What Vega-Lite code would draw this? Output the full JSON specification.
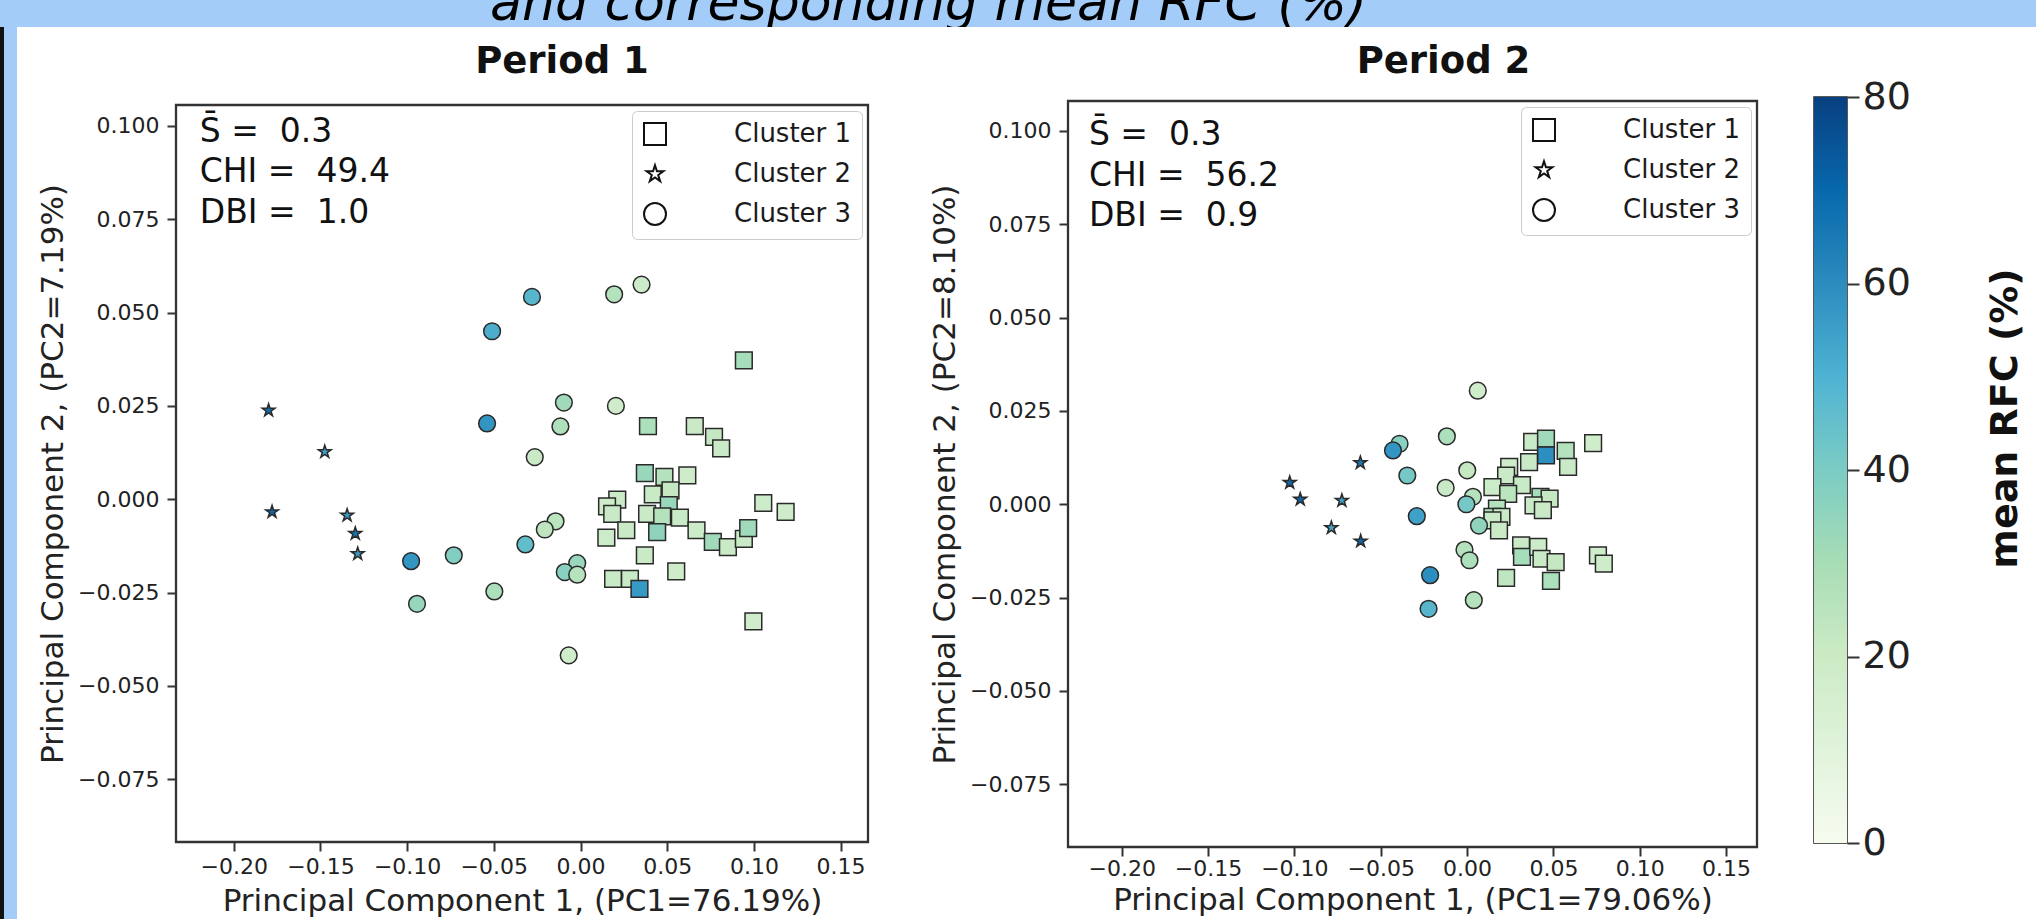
{
  "$schema": "https://vega.github.io/schema/vega-lite/v6.json",
  "background": "white",
  "padding": 0,
  "spacing": 0,
  "config": {
    "font": "DejaVu Sans",
    "view": {"stroke": null},
    "concat": {"spacing": 0},
    "axis": {"domain": false, "grid": false, "tickColor": "#333333", "tickWidth": 2, "tickSize": 9, "labelFont": "DejaVu Sans", "labelFontSize": 22, "labelColor": "#222222", "titleFont": "DejaVu Sans", "titleFontSize": 31, "titleFontWeight": "normal", "titleColor": "#222222"}
  },
  "datasets": {
    "pts": [
      {"period": 1, "cluster": "Cluster 1", "pc1": 0.0942, "pc2": 0.0372, "rfc": 20},
      {"period": 1, "cluster": "Cluster 1", "pc1": 0.0389, "pc2": 0.0196, "rfc": 18},
      {"period": 1, "cluster": "Cluster 1", "pc1": 0.0659, "pc2": 0.0196, "rfc": 5},
      {"period": 1, "cluster": "Cluster 1", "pc1": 0.0770, "pc2": 0.0167, "rfc": 8},
      {"period": 1, "cluster": "Cluster 1", "pc1": 0.0811, "pc2": 0.0136, "rfc": 5},
      {"period": 1, "cluster": "Cluster 1", "pc1": 0.0371, "pc2": 0.0070, "rfc": 25},
      {"period": 1, "cluster": "Cluster 1", "pc1": 0.0484, "pc2": 0.0060, "rfc": 15},
      {"period": 1, "cluster": "Cluster 1", "pc1": 0.0616, "pc2": 0.0064, "rfc": 3},
      {"period": 1, "cluster": "Cluster 1", "pc1": 0.0519, "pc2": 0.0024, "rfc": 8},
      {"period": 1, "cluster": "Cluster 1", "pc1": 0.0417, "pc2": 0.0013, "rfc": 6},
      {"period": 1, "cluster": "Cluster 1", "pc1": 0.0212, "pc2": -0.0001, "rfc": 5},
      {"period": 1, "cluster": "Cluster 1", "pc1": 0.0153, "pc2": -0.0019, "rfc": 3},
      {"period": 1, "cluster": "Cluster 1", "pc1": 0.0183, "pc2": -0.0039, "rfc": 5},
      {"period": 1, "cluster": "Cluster 1", "pc1": 0.0509, "pc2": -0.0016, "rfc": 25},
      {"period": 1, "cluster": "Cluster 1", "pc1": 0.0384, "pc2": -0.0039, "rfc": 5},
      {"period": 1, "cluster": "Cluster 1", "pc1": 0.0471, "pc2": -0.0046, "rfc": 15},
      {"period": 1, "cluster": "Cluster 1", "pc1": 0.0573, "pc2": -0.0049, "rfc": 6},
      {"period": 1, "cluster": "Cluster 1", "pc1": 0.1054, "pc2": -0.0010, "rfc": 4},
      {"period": 1, "cluster": "Cluster 1", "pc1": 0.1183, "pc2": -0.0034, "rfc": 3},
      {"period": 1, "cluster": "Cluster 1", "pc1": 0.0264, "pc2": -0.0083, "rfc": 5},
      {"period": 1, "cluster": "Cluster 1", "pc1": 0.0149, "pc2": -0.0103, "rfc": 4},
      {"period": 1, "cluster": "Cluster 1", "pc1": 0.0442, "pc2": -0.0088, "rfc": 28},
      {"period": 1, "cluster": "Cluster 1", "pc1": 0.0669, "pc2": -0.0083, "rfc": 4},
      {"period": 1, "cluster": "Cluster 1", "pc1": 0.0763, "pc2": -0.0114, "rfc": 22},
      {"period": 1, "cluster": "Cluster 1", "pc1": 0.0850, "pc2": -0.0128, "rfc": 5},
      {"period": 1, "cluster": "Cluster 1", "pc1": 0.0942, "pc2": -0.0106, "rfc": 5},
      {"period": 1, "cluster": "Cluster 1", "pc1": 0.0967, "pc2": -0.0077, "rfc": 22},
      {"period": 1, "cluster": "Cluster 1", "pc1": 0.0371, "pc2": -0.0150, "rfc": 5},
      {"period": 1, "cluster": "Cluster 1", "pc1": 0.0552, "pc2": -0.0193, "rfc": 3},
      {"period": 1, "cluster": "Cluster 1", "pc1": 0.0188, "pc2": -0.0213, "rfc": 6},
      {"period": 1, "cluster": "Cluster 1", "pc1": 0.0285, "pc2": -0.0213, "rfc": 6},
      {"period": 1, "cluster": "Cluster 1", "pc1": 0.0340, "pc2": -0.0240, "rfc": 58},
      {"period": 1, "cluster": "Cluster 1", "pc1": 0.0997, "pc2": -0.0327, "rfc": 2},
      {"period": 1, "cluster": "Cluster 2", "pc1": -0.1799, "pc2": 0.0238, "rfc": 76},
      {"period": 1, "cluster": "Cluster 2", "pc1": -0.1475, "pc2": 0.0127, "rfc": 55},
      {"period": 1, "cluster": "Cluster 2", "pc1": -0.1779, "pc2": -0.0034, "rfc": 78},
      {"period": 1, "cluster": "Cluster 2", "pc1": -0.1346, "pc2": -0.0043, "rfc": 58},
      {"period": 1, "cluster": "Cluster 2", "pc1": -0.1299, "pc2": -0.0092, "rfc": 72},
      {"period": 1, "cluster": "Cluster 2", "pc1": -0.1285, "pc2": -0.0146, "rfc": 56},
      {"period": 1, "cluster": "Cluster 3", "pc1": -0.0280, "pc2": 0.0542, "rfc": 46},
      {"period": 1, "cluster": "Cluster 3", "pc1": -0.0510, "pc2": 0.0450, "rfc": 50},
      {"period": 1, "cluster": "Cluster 3", "pc1": -0.0539, "pc2": 0.0203, "rfc": 60},
      {"period": 1, "cluster": "Cluster 3", "pc1": 0.0194, "pc2": 0.0549, "rfc": 15},
      {"period": 1, "cluster": "Cluster 3", "pc1": 0.0352, "pc2": 0.0575, "rfc": 4},
      {"period": 1, "cluster": "Cluster 3", "pc1": -0.0096, "pc2": 0.0259, "rfc": 22},
      {"period": 1, "cluster": "Cluster 3", "pc1": -0.0116, "pc2": 0.0195, "rfc": 17},
      {"period": 1, "cluster": "Cluster 3", "pc1": 0.0204, "pc2": 0.0250, "rfc": 3},
      {"period": 1, "cluster": "Cluster 3", "pc1": -0.0264, "pc2": 0.0113, "rfc": 5},
      {"period": 1, "cluster": "Cluster 3", "pc1": -0.0144, "pc2": -0.0059, "rfc": 12},
      {"period": 1, "cluster": "Cluster 3", "pc1": -0.0206, "pc2": -0.0081, "rfc": 11},
      {"period": 1, "cluster": "Cluster 3", "pc1": -0.0318, "pc2": -0.0121, "rfc": 42},
      {"period": 1, "cluster": "Cluster 3", "pc1": -0.0731, "pc2": -0.0150, "rfc": 32},
      {"period": 1, "cluster": "Cluster 3", "pc1": -0.0977, "pc2": -0.0166, "rfc": 60},
      {"period": 1, "cluster": "Cluster 3", "pc1": -0.0943, "pc2": -0.0280, "rfc": 26},
      {"period": 1, "cluster": "Cluster 3", "pc1": -0.0497, "pc2": -0.0247, "rfc": 18},
      {"period": 1, "cluster": "Cluster 3", "pc1": -0.0019, "pc2": -0.0171, "rfc": 25},
      {"period": 1, "cluster": "Cluster 3", "pc1": -0.0091, "pc2": -0.0195, "rfc": 30},
      {"period": 1, "cluster": "Cluster 3", "pc1": -0.0019, "pc2": -0.0202, "rfc": 14},
      {"period": 1, "cluster": "Cluster 3", "pc1": -0.0068, "pc2": -0.0418, "rfc": 2},
      {"period": 2, "cluster": "Cluster 1", "pc1": 0.0730, "pc2": 0.0164, "rfc": 2},
      {"period": 2, "cluster": "Cluster 1", "pc1": 0.0377, "pc2": 0.0167, "rfc": 5},
      {"period": 2, "cluster": "Cluster 1", "pc1": 0.0457, "pc2": 0.0176, "rfc": 22},
      {"period": 2, "cluster": "Cluster 1", "pc1": 0.0457, "pc2": 0.0131, "rfc": 62},
      {"period": 2, "cluster": "Cluster 1", "pc1": 0.0571, "pc2": 0.0143, "rfc": 15},
      {"period": 2, "cluster": "Cluster 1", "pc1": 0.0585, "pc2": 0.0100, "rfc": 5},
      {"period": 2, "cluster": "Cluster 1", "pc1": 0.0359, "pc2": 0.0113, "rfc": 5},
      {"period": 2, "cluster": "Cluster 1", "pc1": 0.0244, "pc2": 0.0100, "rfc": 3},
      {"period": 2, "cluster": "Cluster 1", "pc1": 0.0226, "pc2": 0.0077, "rfc": 5},
      {"period": 2, "cluster": "Cluster 1", "pc1": 0.0147, "pc2": 0.0046, "rfc": 4},
      {"period": 2, "cluster": "Cluster 1", "pc1": 0.0318, "pc2": 0.0051, "rfc": 6},
      {"period": 2, "cluster": "Cluster 1", "pc1": 0.0238, "pc2": 0.0028, "rfc": 12},
      {"period": 2, "cluster": "Cluster 1", "pc1": 0.0425, "pc2": 0.0020, "rfc": 20},
      {"period": 2, "cluster": "Cluster 1", "pc1": 0.0478, "pc2": 0.0015, "rfc": 8},
      {"period": 2, "cluster": "Cluster 1", "pc1": 0.0385, "pc2": -0.0003, "rfc": 5},
      {"period": 2, "cluster": "Cluster 1", "pc1": 0.0173, "pc2": -0.0012, "rfc": 15},
      {"period": 2, "cluster": "Cluster 1", "pc1": 0.0439, "pc2": -0.0016, "rfc": 5},
      {"period": 2, "cluster": "Cluster 1", "pc1": 0.0147, "pc2": -0.0034, "rfc": 15},
      {"period": 2, "cluster": "Cluster 1", "pc1": 0.0199, "pc2": -0.0034, "rfc": 5},
      {"period": 2, "cluster": "Cluster 1", "pc1": 0.0147, "pc2": -0.0043, "rfc": 5},
      {"period": 2, "cluster": "Cluster 1", "pc1": 0.0185, "pc2": -0.0070, "rfc": 5},
      {"period": 2, "cluster": "Cluster 1", "pc1": 0.0313, "pc2": -0.0110, "rfc": 5},
      {"period": 2, "cluster": "Cluster 1", "pc1": 0.0318, "pc2": -0.0141, "rfc": 20},
      {"period": 2, "cluster": "Cluster 1", "pc1": 0.0412, "pc2": -0.0114, "rfc": 4},
      {"period": 2, "cluster": "Cluster 1", "pc1": 0.0431, "pc2": -0.0146, "rfc": 6},
      {"period": 2, "cluster": "Cluster 1", "pc1": 0.0513, "pc2": -0.0155, "rfc": 8},
      {"period": 2, "cluster": "Cluster 1", "pc1": 0.0486, "pc2": -0.0205, "rfc": 18},
      {"period": 2, "cluster": "Cluster 1", "pc1": 0.0226, "pc2": -0.0197, "rfc": 10},
      {"period": 2, "cluster": "Cluster 1", "pc1": 0.0758, "pc2": -0.0137, "rfc": 2},
      {"period": 2, "cluster": "Cluster 1", "pc1": 0.0792, "pc2": -0.0159, "rfc": 3},
      {"period": 2, "cluster": "Cluster 2", "pc1": -0.1027, "pc2": 0.0058, "rfc": 76},
      {"period": 2, "cluster": "Cluster 2", "pc1": -0.0966, "pc2": 0.0013, "rfc": 78},
      {"period": 2, "cluster": "Cluster 2", "pc1": -0.0618, "pc2": 0.0111, "rfc": 70},
      {"period": 2, "cluster": "Cluster 2", "pc1": -0.0725, "pc2": 0.0010, "rfc": 55},
      {"period": 2, "cluster": "Cluster 2", "pc1": -0.0786, "pc2": -0.0063, "rfc": 52},
      {"period": 2, "cluster": "Cluster 2", "pc1": -0.0616, "pc2": -0.0099, "rfc": 78},
      {"period": 2, "cluster": "Cluster 3", "pc1": 0.0062, "pc2": 0.0304, "rfc": 2},
      {"period": 2, "cluster": "Cluster 3", "pc1": -0.0391, "pc2": 0.0162, "rfc": 30},
      {"period": 2, "cluster": "Cluster 3", "pc1": -0.0429, "pc2": 0.0144, "rfc": 60},
      {"period": 2, "cluster": "Cluster 3", "pc1": -0.0117, "pc2": 0.0182, "rfc": 18},
      {"period": 2, "cluster": "Cluster 3", "pc1": -0.0346, "pc2": 0.0077, "rfc": 36},
      {"period": 2, "cluster": "Cluster 3", "pc1": 0.0001, "pc2": 0.0091, "rfc": 8},
      {"period": 2, "cluster": "Cluster 3", "pc1": -0.0124, "pc2": 0.0044, "rfc": 5},
      {"period": 2, "cluster": "Cluster 3", "pc1": 0.0034, "pc2": 0.0020, "rfc": 15},
      {"period": 2, "cluster": "Cluster 3", "pc1": -0.0004, "pc2": 0.0000, "rfc": 36},
      {"period": 2, "cluster": "Cluster 3", "pc1": -0.0291, "pc2": -0.0032, "rfc": 55},
      {"period": 2, "cluster": "Cluster 3", "pc1": 0.0069, "pc2": -0.0057, "rfc": 28},
      {"period": 2, "cluster": "Cluster 3", "pc1": -0.0015, "pc2": -0.0122, "rfc": 15},
      {"period": 2, "cluster": "Cluster 3", "pc1": 0.0014, "pc2": -0.0150, "rfc": 18},
      {"period": 2, "cluster": "Cluster 3", "pc1": -0.0214, "pc2": -0.0190, "rfc": 62},
      {"period": 2, "cluster": "Cluster 3", "pc1": 0.0039, "pc2": -0.0257, "rfc": 15},
      {"period": 2, "cluster": "Cluster 3", "pc1": -0.0223, "pc2": -0.0280, "rfc": 46}
    ]
  },
  "vconcat": [
    {
      "width": 2036, "height": 27,
      "view": {"fill": "#a3cdf8", "stroke": null},
      "data": {"values": [{"t": "and corresponding mean RFC (%)"}]},
      "mark": {"type": "text", "clip": true, "font": "DejaVu Sans", "fontStyle": "italic", "fontSize": 52, "align": "left", "baseline": "alphabetic", "color": "black"},
      "encoding": {
        "text": {"field": "t", "type": "nominal"},
        "x": {"datum": 0.2407, "type": "quantitative", "scale": {"domain": [0, 1], "nice": false, "zero": false}, "axis": null},
        "y": {"datum": 0.26, "type": "quantitative", "scale": {"domain": [0, 1], "nice": false, "zero": false}, "axis": null}
      }
    },
    {
      "spacing": 0,
      "resolve": {"scale": {"shape": "independent", "color": "independent", "x": "independent", "y": "independent"}, "legend": {"shape": "independent", "color": "independent"}},
      "hconcat": [
        {"width": 4, "height": 892, "view": {"fill": "#111111", "stroke": null}, "data": {"values": []}, "mark": "point"},
        {"width": 13, "height": 892, "view": {"fill": "#a3cdf8", "stroke": null}, "data": {"values": []}, "mark": "point"},
        {
          "spacing": 0,
          "resolve": {"scale": {"shape": "independent", "color": "independent", "x": "independent", "y": "independent"}, "legend": {"shape": "independent", "color": "independent"}},
          "vconcat": [
            {"width": 1, "height": 13, "data": {"values": []}, "mark": "point"},
            {
              "spacing": 0,
              "resolve": {"scale": {"shape": "independent", "color": "independent", "x": "independent", "y": "independent"}, "legend": {"shape": "independent", "color": "independent"}},
              "hconcat": [
                {"width": 19, "height": 1, "data": {"values": []}, "mark": "point"},
                {
                  "spacing": 0,
                  "resolve": {"scale": {"shape": "independent", "color": "independent", "x": "independent", "y": "independent"}, "legend": {"shape": "independent", "color": "independent"}},
                  "vconcat": [
                    {"width": 1, "height": 1, "data": {"values": []}, "mark": "point"},
                    {
                      "width": 692, "height": 737,
                      "title": {"text": "Period 1", "font": "DejaVu Sans", "fontSize": 37, "fontWeight": "bold", "color": "#111111", "baseline": "alphabetic", "offset": -5, "dx": 40, "anchor": "middle"},
                      "view": {"stroke": "#333333", "strokeWidth": 2.3},
                      "layer": [
                        {
                          "data": {"name": "pts"},
                          "transform": [{"filter": "datum.period == 1"}],
                          "mark": {"type": "point", "filled": true, "stroke": "#2a2a2a", "strokeWidth": 1.5, "opacity": 1, "size": 280},
                          "encoding": {
                            "x": {"field": "pc1", "type": "quantitative", "scale": {"domain": [-0.2333, 0.1658], "nice": false, "zero": false}, "axis": {"values": [-0.2, -0.15, -0.1, -0.05, 0, 0.05, 0.1, 0.15], "format": ".2f", "labelPadding": 5, "titlePadding": 9, "labelFlush": false, "title": "Principal Component 1, (PC1=76.19%)"}},
                            "y": {"field": "pc2", "type": "quantitative", "scale": {"domain": [-0.0918, 0.1056], "nice": false, "zero": false}, "axis": {"values": [-0.075, -0.05, -0.025, 0, 0.025, 0.05, 0.075, 0.1], "format": ".3f", "labelPadding": 8, "titlePadding": 8, "labelFlush": false, "title": "Principal Component 2, (PC2=7.19%)"}},
                            "shape": {"field": "cluster", "type": "nominal", "scale": {"domain": ["Cluster 1", "Cluster 2", "Cluster 3"], "range": ["square", "M0,-0.8L0.1796,-0.2472L0.7608,-0.2472L0.2906,0.0944L0.4702,0.6472L0,0.3056L-0.4702,0.6472L-0.2906,0.0944L-0.7608,-0.2472L-0.1796,-0.2472Z", "circle"]}, "legend": {"title": null, "orient": "top-right", "offset": 6, "fillColor": "white", "strokeColor": "#cccccc", "cornerRadius": 5, "padding": 10, "symbolSize": 484, "symbolStrokeWidth": 2, "symbolFillColor": "white", "symbolStrokeColor": "#111111", "symbolOffset": 0, "labelFont": "DejaVu Sans", "labelFontSize": 26, "labelColor": "#1a1a1a", "labelOffset": 66, "rowPadding": 12}},
                            "color": {"field": "rfc", "type": "quantitative", "scale": {"scheme": "greenblue", "domain": [0, 80]}, "legend": null}
                          }
                        },
                        {
                          "data": {"values": [{"stats": "S\u0304 = \u00a00.3\nCHI = \u00a049.4\nDBI = \u00a01.0"}]},
                          "mark": {"type": "text", "align": "left", "baseline": "alphabetic", "lineBreak": "\n", "fontSize": 33, "lineHeight": 40.5, "font": "DejaVu Sans", "color": "#111111"},
                          "encoding": {"text": {"field": "stats", "type": "nominal"}, "x": {"datum": -0.2196, "type": "quantitative"}, "y": {"datum": 0.0958, "type": "quantitative"}}
                        }
                      ]
                    }
                  ]
                },
                {"width": 58, "height": 1, "data": {"values": []}, "mark": "point"},
                {
                  "spacing": 0,
                  "resolve": {"scale": {"shape": "independent", "color": "independent", "x": "independent", "y": "independent"}, "legend": {"shape": "independent", "color": "independent"}},
                  "vconcat": [
                    {"width": 1, "height": 1, "data": {"values": []}, "mark": "point"},
                    {
                      "width": 689, "height": 746,
                      "title": {"text": "Period 2", "font": "DejaVu Sans", "fontSize": 37, "fontWeight": "bold", "color": "#111111", "baseline": "alphabetic", "offset": -9, "dx": 31, "anchor": "middle"},
                      "view": {"stroke": "#333333", "strokeWidth": 2.3},
                      "layer": [
                        {
                          "data": {"name": "pts"},
                          "transform": [{"filter": "datum.period == 2"}],
                          "mark": {"type": "point", "filled": true, "stroke": "#2a2a2a", "strokeWidth": 1.5, "opacity": 1, "size": 280},
                          "encoding": {
                            "x": {"field": "pc1", "type": "quantitative", "scale": {"domain": [-0.2311, 0.1679], "nice": false, "zero": false}, "axis": {"values": [-0.2, -0.15, -0.1, -0.05, 0, 0.05, 0.1, 0.15], "format": ".2f", "labelPadding": 2, "titlePadding": 6, "labelFlush": false, "title": "Principal Component 1, (PC1=79.06%)"}},
                            "y": {"field": "pc2", "type": "quantitative", "scale": {"domain": [-0.0918, 0.108], "nice": false, "zero": false}, "axis": {"values": [-0.075, -0.05, -0.025, 0, 0.025, 0.05, 0.075, 0.1], "format": ".3f", "labelPadding": 8, "titlePadding": 8, "labelFlush": false, "title": "Principal Component 2, (PC2=8.10%)"}},
                            "shape": {"field": "cluster", "type": "nominal", "scale": {"domain": ["Cluster 1", "Cluster 2", "Cluster 3"], "range": ["square", "M0,-0.8L0.1796,-0.2472L0.7608,-0.2472L0.2906,0.0944L0.4702,0.6472L0,0.3056L-0.4702,0.6472L-0.2906,0.0944L-0.7608,-0.2472L-0.1796,-0.2472Z", "circle"]}, "legend": {"title": null, "orient": "top-right", "offset": 6, "fillColor": "white", "strokeColor": "#cccccc", "cornerRadius": 5, "padding": 10, "symbolSize": 484, "symbolStrokeWidth": 2, "symbolFillColor": "white", "symbolStrokeColor": "#111111", "symbolOffset": 0, "labelFont": "DejaVu Sans", "labelFontSize": 26, "labelColor": "#1a1a1a", "labelOffset": 66, "rowPadding": 12}},
                            "color": {"field": "rfc", "type": "quantitative", "scale": {"scheme": "greenblue", "domain": [0, 80]}, "legend": null}
                          }
                        },
                        {
                          "data": {"values": [{"stats": "S\u0304 = \u00a00.3\nCHI = \u00a056.2\nDBI = \u00a00.9"}]},
                          "mark": {"type": "text", "align": "left", "baseline": "alphabetic", "lineBreak": "\n", "fontSize": 33, "lineHeight": 40.5, "font": "DejaVu Sans", "color": "#111111"},
                          "encoding": {"text": {"field": "stats", "type": "nominal"}, "x": {"datum": -0.2190, "type": "quantitative"}, "y": {"datum": 0.0962, "type": "quantitative"}}
                        }
                      ]
                    }
                  ]
                },
                {"width": 54, "height": 1, "data": {"values": []}, "mark": "point"},
                {
                  "spacing": 0,
                  "vconcat": [
                    {"width": 1, "height": 37, "data": {"values": []}, "mark": "point"},
                    {
                      "width": 33, "height": 746,
                      "view": {"stroke": "#222222", "strokeWidth": 1.5},
                      "data": {"values": [{"lo": 0, "hi": 80}]},
                      "mark": {"type": "rect", "color": {"gradient": "linear", "x1": 0, "y1": 1, "x2": 0, "y2": 0, "stops": [{"offset": 0, "color": "#f7fcf0"}, {"offset": 0.125, "color": "#e0f3db"}, {"offset": 0.25, "color": "#ccebc5"}, {"offset": 0.375, "color": "#a8ddb5"}, {"offset": 0.5, "color": "#7bccc4"}, {"offset": 0.625, "color": "#4eb3d3"}, {"offset": 0.75, "color": "#2b8cbe"}, {"offset": 0.875, "color": "#0868ac"}, {"offset": 1, "color": "#084081"}]}},
                      "encoding": {
                        "y": {"field": "lo", "type": "quantitative", "scale": {"domain": [0, 80], "nice": false, "zero": false}, "axis": {"orient": "right", "values": [0, 20, 40, 60, 80], "format": "d", "labelFontSize": 38, "tickSize": 12, "labelPadding": 3, "title": "mean RFC (%)", "titleFontSize": 38, "titleFontWeight": "bold", "titleColor": "#111111", "titleAngle": 270, "titleBaseline": "top", "titlePadding": 76, "titleY": 321}},
                        "y2": {"field": "hi"}
                      }
                    }
                  ]
                }
              ]
            }
          ]
        }
      ]
    }
  ]
}
